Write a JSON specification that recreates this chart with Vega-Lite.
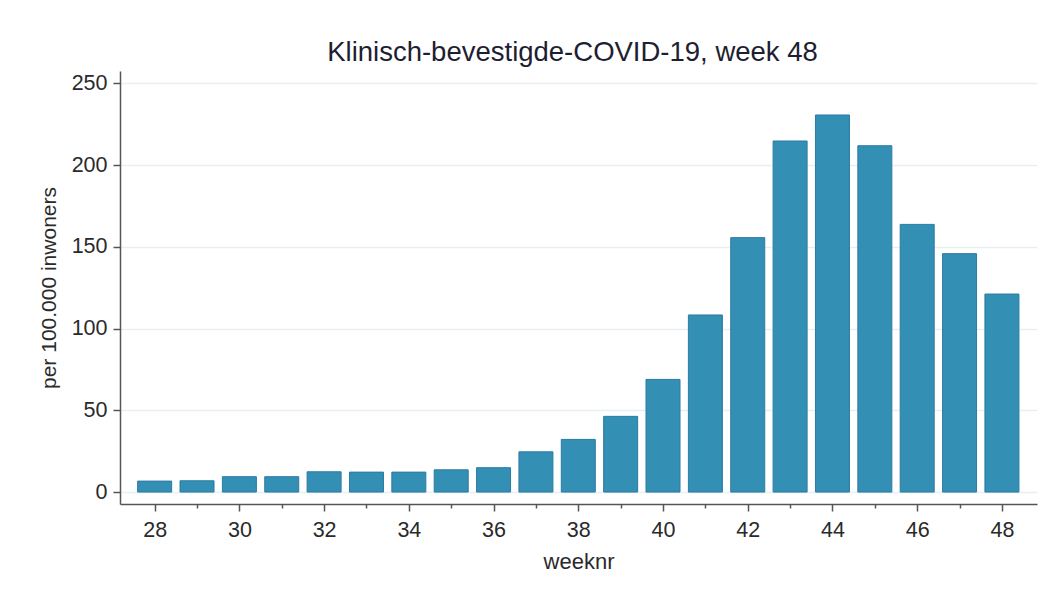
{
  "$schema": "https://vega.github.io/schema/vega-lite/v6.json",
  "autosize": {"type": "none"},
  "padding": {"left": 120, "top": 71, "right": 9, "bottom": 94},
  "width": 917,
  "height": 433,
  "background": "white",
  "title": {
    "text": "Klinisch-bevestigde-COVID-19, week 48",
    "font": "Liberation Sans",
    "fontSize": 27.5,
    "fontWeight": "normal",
    "color": "#1e1e32",
    "anchor": "middle",
    "dx": -6,
    "offset": 5
  },
  "data": {
    "values": [
      {"week": 28, "value": 6.7},
      {"week": 29, "value": 6.9},
      {"week": 30, "value": 9.4},
      {"week": 31, "value": 9.4},
      {"week": 32, "value": 12.4},
      {"week": 33, "value": 12.2},
      {"week": 34, "value": 12.2},
      {"week": 35, "value": 13.6},
      {"week": 36, "value": 14.9},
      {"week": 37, "value": 24.6},
      {"week": 38, "value": 32.2},
      {"week": 39, "value": 46.3},
      {"week": 40, "value": 68.9},
      {"week": 41, "value": 108.3},
      {"week": 42, "value": 155.6},
      {"week": 43, "value": 214.7},
      {"week": 44, "value": 230.6},
      {"week": 45, "value": 211.8},
      {"week": 46, "value": 163.7},
      {"week": 47, "value": 145.8},
      {"week": 48, "value": 121.1}
    ]
  },
  "mark": {"type": "bar", "width": 34, "color": "#348fb4", "stroke": "#2a7ba3", "strokeWidth": 1},
  "encoding": {
    "x": {
      "field": "week",
      "type": "quantitative",
      "scale": {"domain": [27.3, 48.71], "nice": false, "zero": false},
      "axis": {
        "title": "weeknr",
        "values": [28,29,30,31,32,33,34,35,36,37,38,39,40,41,42,43,44,45,46,47,48],
        "labelExpr": "datum.value % 2 === 0 ? datum.label : ''",
        "tickSize": {"condition": {"test": "datum.value % 2 === 0", "value": 7}, "value": 4},
        "grid": false,
        "domainColor": "#555555",
        "domainWidth": 1.5,
        "tickColor": "#555555",
        "tickWidth": 1.5,
        "labelFont": "Liberation Sans",
        "labelFontSize": 21.5,
        "labelColor": "#2a2a2a",
        "labelPadding": 8,
        "labelFlush": false,
        "titleFont": "Liberation Sans",
        "titleFontSize": 22,
        "titleFontWeight": "normal",
        "titleColor": "#2a2a2a",
        "titlePadding": 11
      }
    },
    "y": {
      "field": "value",
      "type": "quantitative",
      "scale": {"domain": [-7.3, 257.5], "nice": false, "zero": false},
      "axis": {
        "title": "per 100.000 inwoners",
        "values": [0, 50, 100, 150, 200, 250],
        "grid": true,
        "gridColor": "#e8eff2",
        "gridWidth": 1.5,
        "domainColor": "#555555",
        "domainWidth": 1.5,
        "tickColor": "#555555",
        "tickWidth": 1.5,
        "tickSize": 7,
        "labelFont": "Liberation Sans",
        "labelFontSize": 21.5,
        "labelColor": "#2a2a2a",
        "labelPadding": 6,
        "labelFlush": false,
        "titleFont": "Liberation Sans",
        "titleFontSize": 21,
        "titleFontWeight": "normal",
        "titleColor": "#2a2a2a",
        "titlePadding": 12
      }
    }
  },
  "config": {"view": {"stroke": null}}
}
